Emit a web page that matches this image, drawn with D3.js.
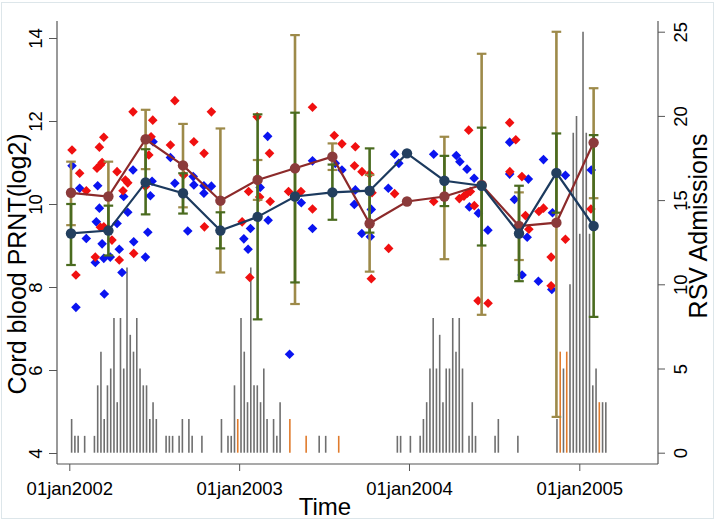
<!DOCTYPE html>
<html><head><meta charset="utf-8">
<script src="https://cdn.jsdelivr.net/npm/d3@7"></script>
<style>body{margin:0;background:#fff}svg{display:block}text{font-family:"Liberation Sans",Arial,sans-serif;fill:#000}</style>
</head><body><svg id="c" width="716" height="522"></svg>
<script>
// ---- DATA ----
// weekly RSV admissions (week index from 06jan2002)
const grayWeeks  = [0,1,2,4,7,8,9,10,11,12,13,14,15,16,17,18,19,20,21,22,23,24,25,26,29,30,31,33,34,36,37,40,
  46,48,49,50,52,53,54,55,56,57,58,59,60,62,63,64,76,78,
  100,101,104,107,108,109,110,111,112,113,114,115,116,117,118,119,120,122,123,124,130,131,137,
  149,151,153,154,155,156,157,158,159,160,161,163,164];
const grayCounts = [2,1,1,1,1,4,6,2,4,5,8,3,8,5,11,7,6,8,5,4,4,2,3,2,1,1,1,1,2,2,1,1,
  2,1,1,4,8,6,3,11,4,4,3,5,2,2,1,3,1,1,
  1,1,1,1,2,3,5,8,5,7,3,5,5,8,6,8,5,1,3,1,1,2,1,
  2,5,10,19,20,13,25,19,13,4,5,3,3];
const orangeWeeks  = [51,67,72,82,150,152,162];
const orangeCounts = [2,2,1,1,6,6,3];

// group means (time in years since 01jan2002)
const meanTimes = [0.010,0.230,0.449,0.669,0.889,1.108,1.328,1.548,1.767,1.987,2.207,2.426,2.646,2.866,3.085];
const redMean  = [10.27,10.18,11.56,10.93,10.08,10.58,10.86,11.14,9.53,10.06,10.18,10.46,9.47,9.55,11.48];
const blueMean = [9.29,9.36,10.52,10.26,9.36,9.69,10.18,10.28,10.32,11.22,10.56,10.44,9.29,10.75,9.47];
const redLo  = [9.49,9.34,10.84,9.92,8.35,10.10,7.59,10.82,8.37,null,8.67,7.33,8.65,4.87,10.14];
const redHi  = [11.02,11.02,12.27,11.93,11.82,11.06,14.07,11.46,10.70,null,11.62,13.62,10.28,14.15,12.79];
const blueLo = [8.53,8.76,9.75,9.77,8.93,7.22,8.11,9.62,9.31,null,9.95,9.00,8.14,9.79,7.28];
const blueHi = [10.00,9.96,11.32,10.74,9.80,12.16,12.20,10.95,11.34,null,11.16,11.84,10.44,11.70,11.66];

// individual cord blood values
const redT = [0.016,0.061,0.100,0.039,0.177,0.203,0.163,0.183,0.193,0.281,0.330,0.344,0.316,0.153,0.183,0.203,0.251,0.294,0.379,0.375,
  0.491,0.481,0.468,0.448,0.621,0.595,0.733,0.793,0.836,0.795,0.673,1.062,1.105,1.055,1.120,1.178,1.017,1.182,1.290,1.363,
  1.431,1.431,1.559,1.604,1.683,1.678,1.722,1.767,1.781,1.879,1.777,1.914,2.144,2.295,2.322,2.342,2.360,2.383,2.350,2.405,
  2.464,2.591,2.627,2.592,2.663,2.684,2.704,2.763,2.790,2.835,2.835,2.919,3.069];
const redV = [11.30,10.74,10.32,8.29,11.37,11.61,10.86,10.94,11.00,10.78,10.58,10.51,10.32,8.72,9.44,9.45,9.13,8.65,8.81,12.22,
  12.02,11.62,11.18,10.42,12.49,11.42,11.50,11.22,12.22,9.45,10.70,8.23,12.10,10.30,10.17,11.22,9.57,10.06,10.30,10.30,
  12.33,9.88,11.65,11.45,11.38,10.92,10.78,10.72,10.27,8.93,8.20,10.25,10.06,10.13,10.19,10.26,10.30,9.96,11.78,7.67,
  7.61,11.96,11.55,10.78,10.66,9.72,9.39,9.82,9.90,8.72,8.03,9.15,9.88];
const blueT = [0.016,0.061,0.100,0.039,0.167,0.177,0.159,0.193,0.153,0.203,0.241,0.206,0.281,0.294,0.310,0.320,0.344,0.375,0.379,0.448,
  0.462,0.477,0.487,0.493,0.595,0.621,0.697,0.733,0.729,0.792,0.792,0.836,1.027,1.052,1.066,1.123,1.167,1.170,1.296,1.365,
  1.431,1.431,1.565,1.604,1.683,1.677,1.721,1.771,1.777,1.877,1.914,1.939,2.144,2.277,2.298,2.340,2.382,2.354,2.407,2.463,
  2.591,2.591,2.619,2.701,2.694,2.664,2.760,2.790,2.843,2.839,2.919,3.071];
const blueV = [10.92,10.38,9.17,7.51,10.44,9.90,9.57,9.04,8.59,8.69,8.72,7.83,9.53,8.91,8.35,10.18,9.80,10.82,9.09,8.72,
  9.32,10.20,10.55,11.50,11.12,10.50,9.35,10.46,10.66,10.26,10.44,10.43,9.16,8.91,9.41,10.40,11.63,9.61,6.38,10.03,
  11.04,9.41,10.98,10.82,10.34,9.99,9.29,9.21,9.87,10.38,11.20,10.98,11.20,11.17,11.02,10.84,10.62,9.93,9.78,9.37,
  11.49,10.72,10.11,10.60,9.20,8.29,8.14,11.07,9.79,7.94,10.69,10.82];

const xTickLabels = ["01jan2002","01jan2003","01jan2004","01jan2005"];
const leftTicks = [4,6,8,10,12,14];
const rightTicks = [0,5,10,15,20,25];

// ---- DRAW ----
const DAY = 864e5;
const t0 = Date.UTC(2002,0,1);
const toDate = t => new Date(t0 + t*365.25*DAY);
const weekDate = w => new Date(Date.UTC(2002,0,6) + w*7*DAY);
const xTicks = xTickLabels.map((s,i)=>new Date(Date.UTC(2002+i,0,1)));

const svg = d3.select("#c");
const L = 57, R = 658, T = 21, B = 464;
const x = d3.scaleUtc().domain([xTicks[0], xTicks[3]]).range([69.3, 579.3]);
const yL = d3.scaleLinear().domain([4,14]).range([453,38]);
const yR = d3.scaleLinear().domain([0,25]).range([452.7,31.7]);

svg.append("rect").attr("x",1.5).attr("y",2.5).attr("width",712).attr("height",516)
  .attr("fill","#fff").attr("stroke","#dde6ea").attr("stroke-width",1);

const axisColor = "#555";
// bars
svg.append("g").selectAll("line").data(grayWeeks.map((w,i)=>[w,grayCounts[i]])).join("line")
  .attr("x1",d=>x(weekDate(d[0]))).attr("x2",d=>x(weekDate(d[0])))
  .attr("y1",yR(0)).attr("y2",d=>yR(d[1]))
  .attr("stroke","#6f6f6f").attr("stroke-width",1.6);
svg.append("g").selectAll("line").data(orangeWeeks.map((w,i)=>[w,orangeCounts[i]])).join("line")
  .attr("x1",d=>x(weekDate(d[0]))).attr("x2",d=>x(weekDate(d[0])))
  .attr("y1",yR(0)).attr("y2",d=>yR(d[1]))
  .attr("stroke","#e07b2c").attr("stroke-width",1.6);

// diamonds
const dia = r => `M0,${-r}L${r},0L0,${r}L${-r},0Z`;
svg.append("g").selectAll("path").data(blueT.map((t,i)=>[t,blueV[i]])).join("path")
  .attr("d",dia(4.8)).attr("transform",d=>`translate(${x(toDate(d[0]))},${yL(d[1])})`).attr("fill","#0a14f0");
svg.append("g").selectAll("path").data(redT.map((t,i)=>[t,redV[i]])).join("path")
  .attr("d",dia(4.8)).attr("transform",d=>`translate(${x(toDate(d[0]))},${yL(d[1])})`).attr("fill","#f01010");

// CIs
function ci(lo, hi, color){
  const g = svg.append("g").attr("stroke",color).attr("fill","none");
  const d = meanTimes.map((t,i)=>({t,lo:lo[i],hi:hi[i]})).filter(d=>d.lo!=null);
  g.selectAll(".v").data(d).join("line").attr("x1",d=>x(toDate(d.t))).attr("x2",d=>x(toDate(d.t)))
    .attr("y1",d=>yL(d.lo)).attr("y2",d=>yL(d.hi)).attr("stroke-width",2.6);
  ["lo","hi"].forEach(k=>{
    g.selectAll(".c"+k).data(d).join("line").attr("x1",d=>x(toDate(d.t))-4.8).attr("x2",d=>x(toDate(d.t))+4.8)
      .attr("y1",d=>yL(d[k])).attr("y2",d=>yL(d[k])).attr("stroke-width",2.2);
  });
}
ci(redLo, redHi, "#9d8a49");
ci(blueLo, blueHi, "#4a6b1f");

// mean lines
function meanLine(vals, lineColor, dotColor){
  const pts = meanTimes.map((t,i)=>[x(toDate(t)), yL(vals[i])]);
  svg.append("path").attr("d",d3.line()(pts)).attr("fill","none").attr("stroke",lineColor).attr("stroke-width",2.2);
  svg.append("g").selectAll("circle").data(pts).join("circle").attr("cx",d=>d[0]).attr("cy",d=>d[1]).attr("r",5.2)
    .attr("fill",dotColor);
}
meanLine(redMean, "#8c2a2a", "#8b3b3b");
meanLine(blueMean, "#1c3a5e", "#233f5e");

// axes
const fs = "18.5px";
const gl = svg.append("g").attr("transform",`translate(${L},0)`)
  .call(d3.axisLeft(yL).tickValues(leftTicks).tickSize(8).tickSizeOuter(0).tickFormat(d3.format("d")));
gl.select(".domain").remove();
gl.selectAll("line").attr("stroke",axisColor);
gl.selectAll("text").attr("x",null).attr("dy",null).attr("text-anchor","middle")
  .attr("transform","translate(-15.5,0) rotate(-90)").style("font-size",fs);

const gr = svg.append("g").attr("transform",`translate(${R},0)`)
  .call(d3.axisRight(yR).tickValues(rightTicks).tickSize(7).tickSizeOuter(0).tickFormat(d3.format("d")));
gr.select(".domain").remove();
gr.selectAll("line").attr("stroke",axisColor);
gr.selectAll("text").attr("x",null).attr("dy",null).attr("text-anchor","middle")
  .attr("transform","translate(29,0) rotate(-90)").style("font-size",fs);

const gb = svg.append("g").attr("transform",`translate(0,${B})`)
  .call(d3.axisBottom(x).tickValues(xTicks).tickSize(7).tickSizeOuter(0).tickFormat((d,i)=>xTickLabels[i]));
gb.select(".domain").remove();
gb.selectAll("line").attr("stroke",axisColor);
gb.selectAll("text").attr("y",31).attr("dy",null).style("font-size",fs);

svg.append("line").attr("x1",L).attr("x2",L).attr("y1",T).attr("y2",B).attr("stroke",axisColor).attr("stroke-width",1.2);
svg.append("line").attr("x1",R).attr("x2",R).attr("y1",T).attr("y2",B).attr("stroke",axisColor).attr("stroke-width",1.2);
svg.append("line").attr("x1",L).attr("x2",R).attr("y1",B).attr("y2",B).attr("stroke",axisColor).attr("stroke-width",1.2);

// titles
svg.append("text").attr("transform","translate(25.5,264) rotate(-90)").attr("text-anchor","middle")
  .style("font-size","25px").text("Cord blood PRNT(log2)");
svg.append("text").attr("transform","translate(707,226) rotate(-90)").attr("text-anchor","middle")
  .style("font-size","25px").text("RSV Admissions");
svg.append("text").attr("x",325).attr("y",515).attr("text-anchor","middle")
  .style("font-size","24px").text("Time");
</script></body></html>
